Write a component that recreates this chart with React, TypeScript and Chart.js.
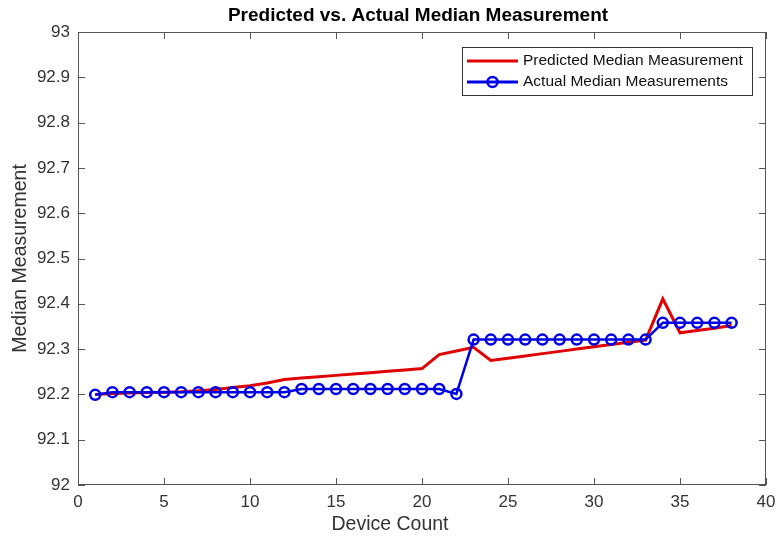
import React, { useEffect, useRef } from "react";
import { Chart, registerables } from "chart.js";

Chart.register(...registerables);

const deviceCount = [1,2,3,4,5,6,7,8,9,10,11,12,13,14,15,16,17,18,19,20,21,22,23,24,25,26,27,28,29,30,31,32,33,34,35,36,37,38];
const predicted = [92.2,92.202,92.203,92.204,92.205,92.206,92.208,92.211,92.215,92.219,92.225,92.233,92.236,92.239,92.242,92.245,92.248,92.251,92.254,92.257,92.288,92.296,92.304,92.275,92.28,92.285,92.29,92.295,92.3,92.305,92.31,92.315,92.32,92.411,92.336,92.341,92.346,92.352];
const actual = [92.199,92.205,92.205,92.205,92.205,92.205,92.205,92.205,92.205,92.205,92.205,92.205,92.212,92.212,92.212,92.212,92.212,92.212,92.212,92.212,92.212,92.201,92.321,92.321,92.321,92.321,92.321,92.321,92.321,92.321,92.321,92.321,92.321,92.358,92.358,92.358,92.358,92.358];
const seriesNames = ["Predicted Median Measurement", "Actual Median Measurements"];
const titleText = "Predicted vs. Actual Median Measurement";
const xLabel = "Device Count";
const yLabel = "Median Measurement";

const RED = "#e00000";
const BLUE = "#0000e6";
const AXIS = "#555555";
const TEXT = "#333333";
const FONT = "Arial, 'Liberation Sans', Helvetica, sans-serif";

export default function App() {
  const ref = useRef<HTMLCanvasElement | null>(null);
  useEffect(() => {
    const canvas = ref.current!;
    const framePlugin = {
      id: "frame",
      afterDraw(chart: any) {
        const ctx = chart.ctx;
        const { left, right, top, bottom } = chart.chartArea;
        const xs = chart.scales.x;
        const ys = chart.scales.y;
        ctx.save();
        ctx.strokeStyle = AXIS;
        ctx.lineWidth = 1;
        ctx.strokeRect(left + 0.5, top + 0.5, right - left - 1, bottom - top - 1);
        const tl = 7;
        ctx.beginPath();
        xs.ticks.forEach((t: any) => {
          const px = Math.round(xs.getPixelForValue(t.value)) + 0.5;
          ctx.moveTo(px, bottom); ctx.lineTo(px, bottom - tl);
          ctx.moveTo(px, top); ctx.lineTo(px, top + tl);
        });
        ys.ticks.forEach((t: any) => {
          const py = Math.round(ys.getPixelForValue(t.value)) + 0.5;
          ctx.moveTo(left, py); ctx.lineTo(left + tl, py);
          ctx.moveTo(right, py); ctx.lineTo(right - tl, py);
        });
        ctx.stroke();
        // title
        ctx.fillStyle = "#000";
        ctx.font = `bold 19px ${FONT}`;
        ctx.textAlign = "center";
        ctx.textBaseline = "middle";
        ctx.fillText(titleText, (left + right) / 2 - 4, 16);
        // axis labels
        ctx.fillStyle = TEXT;
        ctx.font = `19.5px ${FONT}`;
        ctx.fillText(xLabel, 390, 525);
        ctx.save();
        ctx.translate(21, (top + bottom) / 2);
        ctx.rotate(-Math.PI / 2);
        ctx.fillText(yLabel, 0, 0);
        ctx.restore();
        // legend
        const lx = 462, ly = 47, lw = 290, lh = 48;
        ctx.fillStyle = "#fff";
        ctx.fillRect(lx, ly, lw, lh);
        ctx.strokeStyle = "#333";
        ctx.strokeRect(lx + 0.5, ly + 0.5, lw, lh);
        ctx.font = `15.5px ${FONT}`;
        ctx.textAlign = "left";
        [RED, BLUE].forEach((c, i) => {
          const y = ly + (i === 0 ? 14 : 35);
          ctx.strokeStyle = c;
          ctx.lineWidth = 3;
          ctx.beginPath();
          ctx.moveTo(467, y); ctx.lineTo(518, y);
          ctx.stroke();
          if (i === 1) {
            ctx.lineWidth = 2.5;
            ctx.beginPath();
            ctx.arc(492.5, y, 5, 0, Math.PI * 2);
            ctx.stroke();
          }
          ctx.fillStyle = "#111";
          ctx.fillText(seriesNames[i], 523, y);
        });
        ctx.restore();
      },
    };
    const chart = new Chart(canvas, {
      type: "line",
      data: {
        datasets: [
          {
            label: seriesNames[1],
            data: deviceCount.map((x, i) => ({ x, y: actual[i] })),
            borderColor: BLUE,
            borderWidth: 2.5,
            pointRadius: 5,
            pointBorderWidth: 2.5,
            pointBorderColor: BLUE,
            pointBackgroundColor: "rgba(0,0,0,0)",
            tension: 0,
            order: 0,
          },
          {
            label: seriesNames[0],
            data: deviceCount.map((x, i) => ({ x, y: predicted[i] })),
            borderColor: RED,
            borderWidth: 3,
            pointRadius: 0,
            tension: 0,
            order: 1,
          },
        ],
      },
      options: {
        animation: false,
        responsive: false,
        layout: { padding: { top: 32, right: 11, left: 0, bottom: 0 } },
        plugins: { legend: { display: false }, title: { display: false }, tooltip: { enabled: false } },
        scales: {
          x: {
            type: "linear",
            min: 0,
            max: 40,
            grid: { display: false, drawTicks: false },
            border: { display: false },
            ticks: { stepSize: 5, color: TEXT, font: { family: FONT, size: 17 }, padding: 7, maxRotation: 0 },
            afterFit: (s: any) => { s.height = 53; s.paddingLeft = 0; s.paddingRight = 0; },
          },
          y: {
            type: "linear",
            min: 92,
            max: 93,
            grid: { display: false, drawTicks: false },
            border: { display: false },
            ticks: {
              stepSize: 0.1,
              color: TEXT,
              font: { family: FONT, size: 17 },
              padding: 8,
              callback: (v: any) => String(Number(Number(v).toFixed(1))),
            },
            afterFit: (s: any) => { s.width = 78; s.paddingTop = 0; s.paddingBottom = 0; },
          },
        },
      },
      plugins: [framePlugin],
    });
    return () => chart.destroy();
  }, []);
  return (
    <div style={{ position: "fixed", left: 0, top: 0, width: 777, height: 538, background: "#fff" }}>
      <canvas ref={ref} width={777} height={538} style={{ display: "block" }} />
    </div>
  );
}
